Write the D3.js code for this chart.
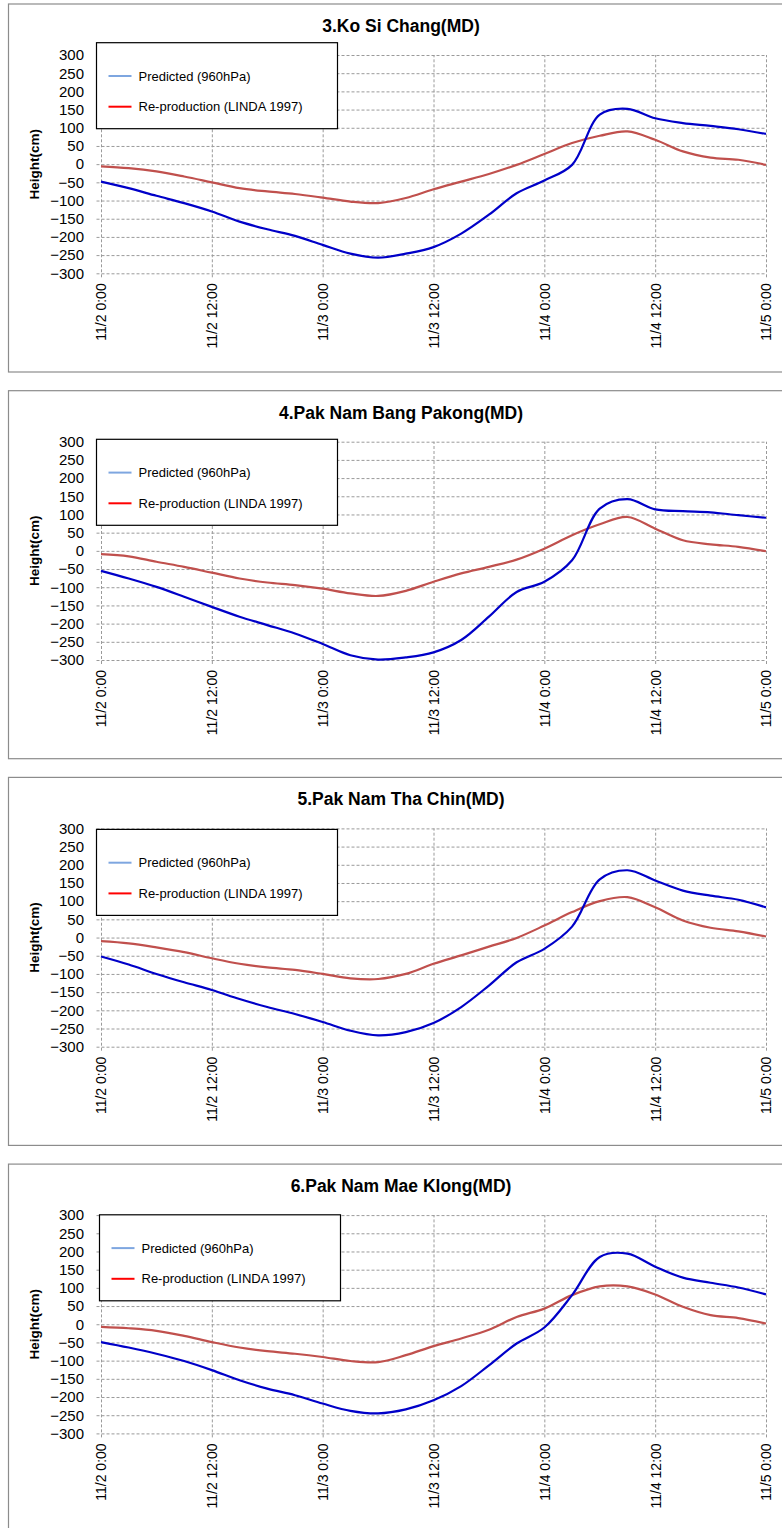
<!DOCTYPE html>
<html>
<head>
<meta charset="utf-8">
<script src="https://cdn.jsdelivr.net/npm/d3@7"></script>
<style>
  body { margin: 0; background: #fff; }
  svg { display: block; font-family: Arial, "Liberation Sans", sans-serif; }
  .grid line { stroke: #9a9a9a; stroke-dasharray: 3,2; }
</style>
</head>
<body>
<div id="chart"></div>
<script>
// hours since 11/2 0:00, every 3 hours
const hours = [0,3,6,9,12,15,18,21,24,27,30,33,36,39,42,45,48,51,54,57,60,63,66,69,72];
const tickHours = [0,12,24,36,48,60,72];
const tickLabels = ["11/2 0:00","11/2 12:00","11/3 0:00","11/3 12:00","11/4 0:00","11/4 12:00","11/5 0:00"];
const yTicks = [-300,-250,-200,-150,-100,-50,0,50,100,150,200,250,300];
const legendNames = ["Predicted (960hPa)", "Re-production (LINDA 1997)"];

const titles = ["3.Ko Si Chang(MD)", "4.Pak Nam Bang Pakong(MD)", "5.Pak Nam Tha Chin(MD)", "6.Pak Nam Mae Klong(MD)"];

const predicted3 = [-48,-66,-87,-107,-130,-158,-179,-197,-222,-246,-257,-246,-228,-191,-139,-80,-45,-2,136,152,126,113,105,96,83];
const repro3     = [-6,-11,-20,-34,-50,-66,-75,-82,-92,-103,-107,-93,-69,-48,-27,-2,28,58,78,90,67,35,18,12,-2];

const predicted4 = [-55,-76,-99,-126,-154,-181,-204,-227,-256,-287,-299,-293,-279,-245,-181,-113,-85,-26,116,142,114,109,106,98,91];
const repro4     = [-9,-15,-30,-44,-60,-76,-87,-94,-104,-117,-124,-110,-85,-62,-44,-24,6,43,73,93,61,29,18,11,-1];

const predicted5 = [-52,-74,-100,-123,-144,-169,-191,-210,-232,-256,-269,-260,-235,-191,-132,-68,-31,30,160,185,157,129,115,104,83];
const repro5     = [-10,-16,-27,-40,-57,-72,-82,-89,-100,-112,-114,-100,-72,-49,-25,-1,33,70,100,111,83,47,27,17,3];

const predicted6 = [-49,-64,-81,-101,-126,-154,-177,-195,-218,-238,-245,-234,-209,-170,-113,-53,-9,80,185,194,158,128,114,101,82];
const repro6     = [-7,-11,-18,-32,-49,-64,-74,-81,-90,-101,-104,-85,-60,-39,-15,20,43,80,104,104,82,48,25,17,2];

const svg = d3.select("#chart").append("svg")
    .attr("width", 782)
    .attr("height", 1528);

function station(index, title, pred, repro, legendX, legendTop) {
    const top = 4 + index * 386.7;
    const left = 101, right = 766;
    const plotTop = top + 51, plotBottom = top + 269.3;

    const g = svg.append("g");

    // frame
    g.append("rect")
        .attr("x", 8.5).attr("y", top)
        .attr("width", 790).attr("height", 368)
        .attr("fill", "#fff")
        .attr("stroke", "#8c8c8c")
        .attr("stroke-width", 1.2);

    const x = d3.scaleLinear().domain([0, 72]).range([left, right]);
    const y = d3.scaleLinear().domain([-300, 300]).range([plotBottom, plotTop]);

    // y grid + labels
    const ya = g.append("g")
        .attr("class", "grid")
        .attr("transform", "translate(" + (left - 4.5) + ",0)")
        .call(d3.axisLeft(y).tickValues(yTicks).tickSize(-(right - left + 4.5)).tickPadding(12.5));
    ya.select(".domain").remove();
    ya.selectAll("text").attr("fill", "#000").style("font-size", "15px");

    // x grid + rotated labels
    const xa = g.append("g")
        .attr("class", "grid")
        .attr("transform", "translate(0," + (plotBottom + 4) + ")")
        .call(d3.axisBottom(x).tickValues(tickHours).tickFormat((d, i) => tickLabels[i]).tickSize(-(plotBottom - plotTop + 4)));
    xa.select(".domain").remove();
    xa.selectAll("text")
        .attr("transform", "rotate(-90)")
        .attr("x", -6).attr("y", 0).attr("dy", "0.35em")
        .attr("fill", "#000")
        .style("text-anchor", "end")
        .style("font-size", "14px");

    // title
    g.append("text")
        .attr("x", 401).attr("y", top + 28)
        .attr("text-anchor", "middle")
        .style("font-size", "17.5px").style("font-weight", "bold")
        .text(title);

    // y axis title
    g.append("text")
        .attr("transform", "translate(39," + ((plotTop + plotBottom) / 2) + ") rotate(-90)")
        .attr("text-anchor", "middle")
        .style("font-size", "13.5px").style("font-weight", "bold")
        .text("Height(cm)");

    const line = d3.line()
        .x((d, i) => x(hours[i]))
        .y(d => y(d))
        .curve(d3.curveCatmullRom.alpha(0.5));

    g.append("path").datum(repro)
        .attr("d", line).attr("fill", "none")
        .attr("stroke", "#c0504d").attr("stroke-width", 2.2);
    g.append("path").datum(pred)
        .attr("d", line).attr("fill", "none")
        .attr("stroke", "#0000c8").attr("stroke-width", 2.2);

    // legend
    const ly = top + legendTop;
    const lg = g.append("g").attr("transform", "translate(" + legendX + "," + ly + ")");
    lg.append("rect")
        .attr("width", 241).attr("height", 86)
        .attr("fill", "#fff").attr("stroke", "#000").attr("stroke-width", 1.2);
    const legendColors = ["#7ea6e0", "#ff0000"];
    legendNames.forEach((name, i) => {
        const yy = 33.3 + i * 30.7;
        lg.append("line")
            .attr("x1", 12).attr("x2", 35).attr("y1", yy).attr("y2", yy)
            .attr("stroke", legendColors[i]).attr("stroke-width", 2);
        lg.append("text")
            .attr("x", 42).attr("y", yy).attr("dy", "0.35em")
            .style("font-size", "13px")
            .text(name);
    });
}

station(0, titles[0], predicted3, repro3, 96.5, 38.7);
station(1, titles[1], predicted4, repro4, 96.5, 48.6);
station(2, titles[2], predicted5, repro5, 96.5, 52);
station(3, titles[3], predicted6, repro6, 99.5, 50.7);
</script>
</body>
</html>
